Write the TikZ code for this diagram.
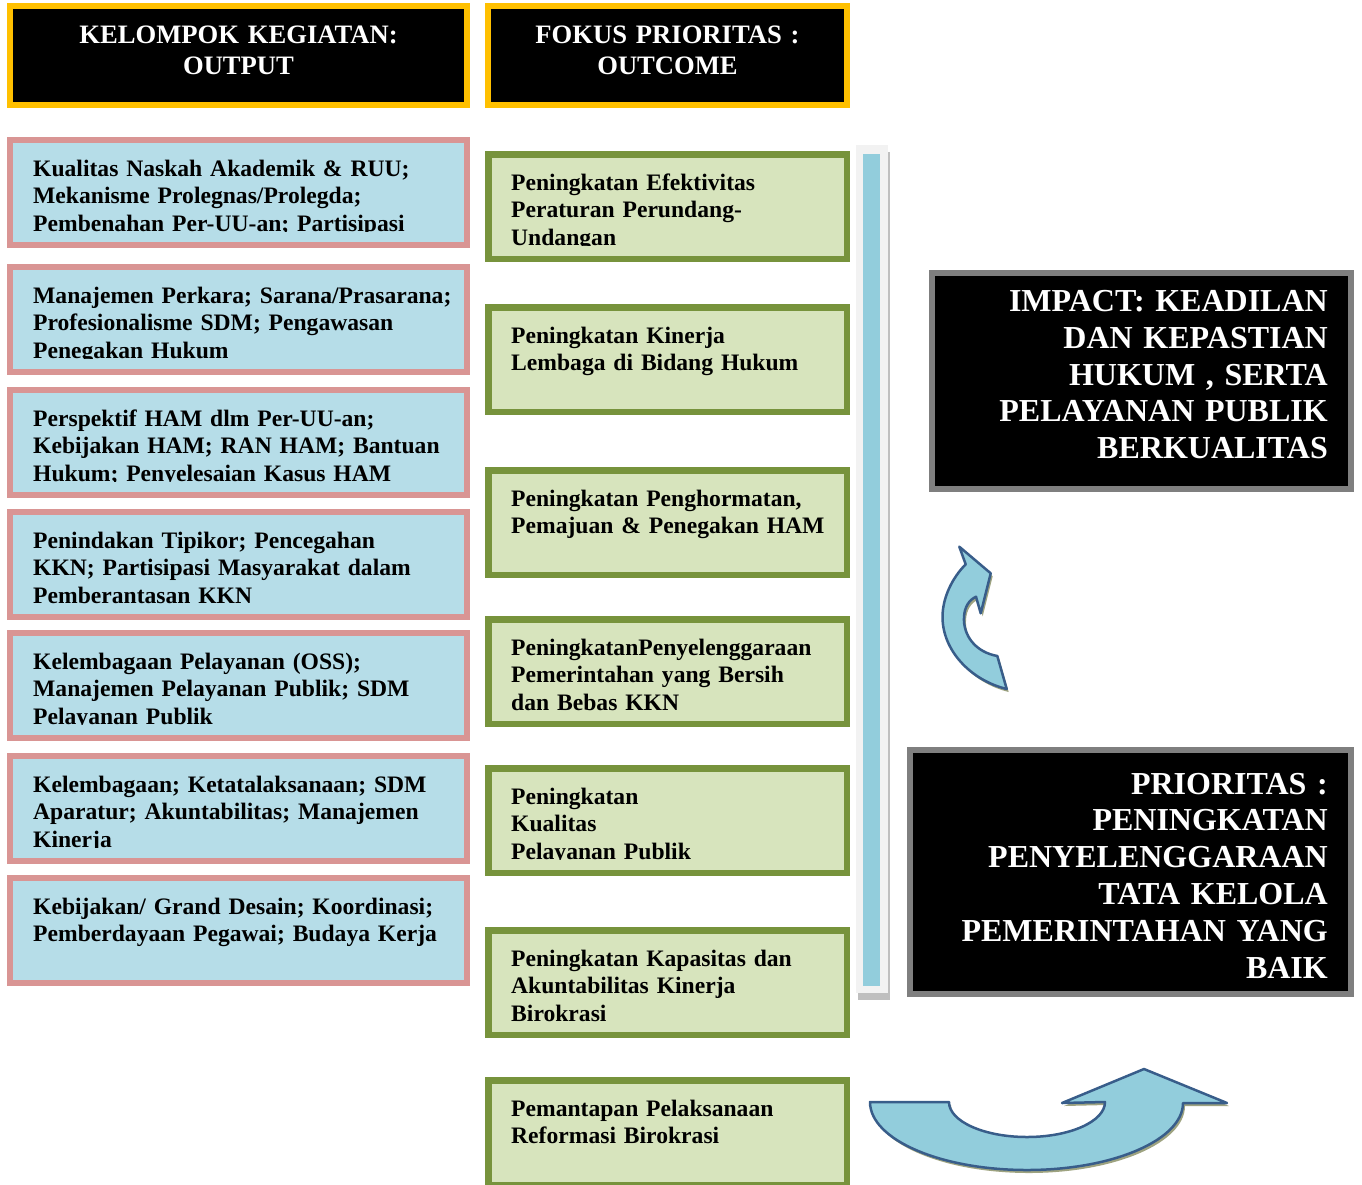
\documentclass[tikz,border=0pt]{standalone}
\usepackage{fontspec}
\setmainfont{Liberation Serif}
\usetikzlibrary{shadows}
\definecolor{headyellow}{HTML}{FFC000}
\definecolor{outpink}{HTML}{D99594}
\definecolor{outblue}{HTML}{B6DDE8}
\definecolor{focgreen}{HTML}{77933C}
\definecolor{focfill}{HTML}{D7E4BD}
\definecolor{impgray}{HTML}{7F7F7F}
\definecolor{barblue}{HTML}{92CDDC}
\definecolor{barback}{HTML}{F2F2F2}
\definecolor{barshadow}{HTML}{BFBFBF}
\definecolor{arrowline}{HTML}{385D8A}
\definecolor{arrowshadow}{RGB}{158,163,128}
\tikzset{
  headbox/.style={draw=headyellow,fill=black,line width=6pt,inner sep=0pt,
    minimum height=99pt,anchor=north west},
  outbox/.style={draw=outpink,fill=outblue,line width=6pt,inner sep=0pt,
    minimum width=457pt,minimum height=105pt,anchor=north west},
  focbox/.style={draw=focgreen,fill=focfill,line width=6.5pt,inner sep=0pt,
    minimum width=358.5pt,minimum height=104.5pt,anchor=north west},
  impbox/.style={draw=impgray,fill=black,line width=6pt,inner sep=0pt,anchor=north west},
  headtext/.style={text=white,inner sep=0pt,anchor=north,align=center,text width=440pt,
    font=\bfseries\fontsize{26.6}{30.6}\selectfont},
  boxtext/.style={inner sep=0pt,anchor=north west,align=left,
    font=\bfseries\fontsize{23.6}{27.6}\selectfont},
  imptext/.style={text=white,inner sep=0pt,anchor=north east,align=right,text width=440pt,
    font=\bfseries\fontsize{32}{36.8}\selectfont},
  blockarrow/.style={fill=barblue,draw=arrowline,line width=2.5pt,line join=round,
    drop shadow={shadow xshift=2pt,shadow yshift=-3pt,fill=arrowshadow,opacity=1}}
}
\begin{document}
\begin{tikzpicture}[x=1pt,y=-1pt]
\useasboundingbox (0,0) rectangle (1362,1184);
%%
  % Node: h1
\begin{scope}
  \node[headbox,minimum width=457pt] (h1) at (7,3) {};
  \node[headtext] (h1t) at (238.5,21.9) {\strut KELOMPOK KEGIATAN:\\OUTPUT};
\end{scope}
  % Node: h2
\begin{scope}
  \node[headbox,minimum width=359pt] (h2) at (485,3) {};
  \node[headtext] (h2t) at (667.5,21.9) {\strut FOKUS PRIORITAS :\\OUTCOME};
\end{scope}
%%
  % Node: o1
  \node[outbox] (o1) at (7,137) {};
\begin{scope}
  \clip (0,137) rectangle (1362,231.5);
  \node[boxtext,text width=445pt] (o1t) at (33,156.7) {\strut Kualitas Naskah Akademik \& RUU;\\Mekanisme Prolegnas/Prolegda;\\Pembenahan Per-UU-an; Partisipasi};
\end{scope}
  % Node: o2
  \node[outbox] (o2) at (7,264) {};
\begin{scope}
  \clip (0,264) rectangle (1362,358.5);
  \node[boxtext,text width=445pt] (o2t) at (33,283.7) {\strut Manajemen Perkara; Sarana/Prasarana;\\Profesionalisme SDM; Pengawasan\\Penegakan Hukum};
\end{scope}
  % Node: o3
  \node[outbox] (o3) at (7,387) {};
\begin{scope}
  \clip (0,387) rectangle (1362,481.5);
  \node[boxtext,text width=445pt] (o3t) at (33,406.7) {\strut Perspektif HAM dlm Per-UU-an;\\Kebijakan HAM; RAN HAM; Bantuan\\Hukum; Penyelesaian Kasus HAM};
\end{scope}
  % Node: o4
  \node[outbox] (o4) at (7,509) {};
\begin{scope}
  \clip (0,509) rectangle (1362,603.5);
  \node[boxtext,text width=445pt] (o4t) at (33,528.7) {\strut Penindakan Tipikor; Pencegahan\\KKN; Partisipasi Masyarakat dalam\\Pemberantasan KKN};
\end{scope}
  % Node: o5
  \node[outbox] (o5) at (7,630) {};
\begin{scope}
  \clip (0,630) rectangle (1362,724.5);
  \node[boxtext,text width=445pt] (o5t) at (33,649.7) {\strut Kelembagaan Pelayanan (OSS);\\Manajemen Pelayanan Publik; SDM\\Pelayanan Publik};
\end{scope}
  % Node: o6
  \node[outbox] (o6) at (7,753) {};
\begin{scope}
  \clip (0,753) rectangle (1362,847.5);
  \node[boxtext,text width=445pt] (o6t) at (33,772.7) {\strut Kelembagaan; Ketatalaksanaan; SDM\\Aparatur; Akuntabilitas; Manajemen\\Kinerja};
\end{scope}
  % Node: o7
  \node[outbox] (o7) at (7,875) {};
\begin{scope}
  \clip (0,875) rectangle (1362,969.5);
  \node[boxtext,text width=445pt] (o7t) at (33,894.7) {\strut Kebijakan/ Grand Desain; Koordinasi;\\Pemberdayaan Pegawai; Budaya Kerja};
\end{scope}
%%
  % Node: f1
  \node[focbox] (f1) at (485,151) {};
\begin{scope}
  \clip (0,151) rectangle (1362,245.5);
  \node[boxtext,text width=330pt] (f1t) at (511,170.7) {\strut Peningkatan Efektivitas\\Peraturan Perundang-\\Undangan};
\end{scope}
  % Node: f2
  \node[focbox] (f2) at (485,304) {};
\begin{scope}
  \clip (0,304) rectangle (1362,398.5);
  \node[boxtext,text width=330pt] (f2t) at (511,323.7) {\strut Peningkatan Kinerja\\Lembaga di Bidang Hukum};
\end{scope}
  % Node: f3
  \node[focbox] (f3) at (485,467) {};
\begin{scope}
  \clip (0,467) rectangle (1362,561.5);
  \node[boxtext,text width=330pt] (f3t) at (511,486.7) {\strut Peningkatan Penghormatan,\\Pemajuan \& Penegakan HAM};
\end{scope}
  % Node: f4
  \node[focbox] (f4) at (485,616) {};
\begin{scope}
  \clip (0,616) rectangle (1362,710.5);
  \node[boxtext,text width=330pt] (f4t) at (511,635.7) {\strut PeningkatanPenyelenggaraan\\Pemerintahan yang Bersih\\dan Bebas KKN};
\end{scope}
  % Node: f5
  \node[focbox] (f5) at (485,765) {};
\begin{scope}
  \clip (0,765) rectangle (1362,859.5);
  \node[boxtext,text width=330pt] (f5t) at (511,784.7) {\strut Peningkatan\\Kualitas\\Pelayanan Publik};
\end{scope}
  % Node: f6
  \node[focbox] (f6) at (485,927) {};
\begin{scope}
  \clip (0,927) rectangle (1362,1021.5);
  \node[boxtext,text width=330pt] (f6t) at (511,946.7) {\strut Peningkatan Kapasitas dan\\Akuntabilitas Kinerja\\Birokrasi};
\end{scope}
  % Node: f7
  \node[focbox] (f7) at (485,1077) {};
\begin{scope}
  \clip (0,1077) rectangle (1362,1171.5);
  \node[boxtext,text width=330pt] (f7t) at (511,1096.7) {\strut Pemantapan Pelaksanaan\\Reformasi Birokrasi};
\end{scope}
%%
  % Bar
  \fill[barshadow] (858,152) rectangle (890,1000);
  \fill[barback] (856,145) rectangle (888,993);
  \fill[barblue] (863,154) rectangle (880,986);
%%
  % Node: imp
\begin{scope}
  \node[impbox,minimum width=419pt,minimum height=216pt] (imp) at (929,270) {};
  \node[imptext] (impt) at (1328,285.5) {\strut IMPACT: KEADILAN\\DAN KEPASTIAN\\HUKUM , SERTA\\PELAYANAN PUBLIK\\BERKUALITAS};
\end{scope}
  % Node: prio
\begin{scope}
  \node[impbox,minimum width=441pt,minimum height=244pt] (prio) at (907,747) {};
  \node[imptext] (priot) at (1328,768.2) {\strut PRIORITAS :\\PENINGKATAN\\PENYELENGGARAAN\\TATA KELOLA\\PEMERINTAHAN YANG\\BAIK};
\end{scope}
%%
  % Arrow: up
  \path[blockarrow] (959.3,546.7) -- (965.7,564.3) .. controls (952,578) and (942.5,598) .. (942.5,617)
    .. controls (942.5,650) and (970,680) .. (1006.7,689) -- (997.3,656)
    .. controls (975,652) and (963,635) .. (964,617) .. controls (964.5,607) and (969,600) .. (976,596.7)
    -- (980.7,613.3) -- (990.7,573.3) -- cycle;
  % Arrow: turn
  \path[blockarrow] (870,1102) -- (949,1102) .. controls (949,1121.3) and (983.9,1137) .. (1027,1137)
    .. controls (1070.1,1137) and (1105,1121.3) .. (1105,1102) -- (1062,1103) -- (1144,1069)
    -- (1227,1103) -- (1183,1103) .. controls (1183,1139.6) and (1113.4,1170) .. (1027,1170)
    .. controls (940.6,1170) and (870,1139.6) .. cycle;
%
\end{tikzpicture}
\end{document}
